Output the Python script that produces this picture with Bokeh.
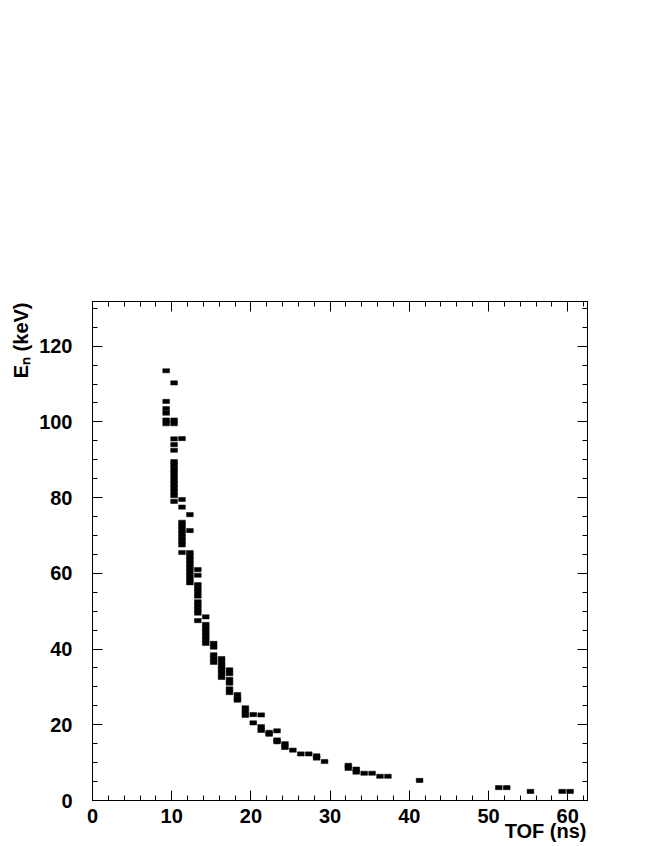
from bokeh.plotting import figure
from bokeh.models import Range1d, LinearAxis, SingleIntervalTicker, ColumnDataSource
from bokeh.embed import file_html
from bokeh.resources import INLINE

# ---- data (TOF bin centre in ns, neutron energy in keV) ----
tof = ([9.3] * 6 + [10.3] * 17 + [11.3] * 11 + [12.3] * 11 + [13.3] * 11 + [14.3] * 7
       + [15.3] * 5 + [16.3] * 6 + [17.3] * 6 + [18.3] * 3 + [19.3] * 3 + [20.3] * 2
       + [21.3] * 3 + [22.3] * 2 + [23.3] * 3 + [24.3] * 2 + [25.3] + [26.3] + [27.3]
       + [28.3] * 2 + [29.3] + [32.3] * 2 + [33.3] * 2 + [34.3] + [35.3] + [36.3] + [37.3]
       + [41.3] + [51.3] + [52.3] + [55.3] + [59.3] + [60.3])
energy = ([113.5, 105.4, 103.5, 102.3, 100.5, 99.5]
          + [110.3, 100.5, 99.5, 95.5, 94.0, 92.5, 89.5, 88.5, 87.5, 86.5, 85.5, 84.5, 83.5, 82.5, 81.5, 80.5, 79.0]
          + [95.6, 79.5, 77.5, 73.5, 72.5, 71.5, 70.5, 69.5, 68.5, 67.5, 65.5]
          + [75.5, 71.3, 65.5, 64.5, 63.5, 62.5, 61.5, 60.5, 59.5, 58.5, 57.5]
          + [61.0, 59.5, 57.0, 56.0, 55.0, 54.0, 52.5, 51.5, 50.5, 49.5, 47.5]
          + [48.5, 46.5, 45.5, 44.5, 43.5, 42.5, 41.5]
          + [41.5, 40.5, 38.5, 37.5, 36.5]
          + [37.5, 36.5, 35.5, 34.5, 33.5, 32.5]
          + [34.5, 33.5, 32.0, 31.0, 29.5, 28.5]
          + [28.0, 27.0, 26.5]
          + [24.5, 23.5, 22.5]
          + [22.7, 20.5]
          + [22.6, 19.5, 18.5]
          + [18.0, 17.5]
          + [18.4, 16.0, 15.5]
          + [15.0, 14.0]
          + [13.3]
          + [12.3]
          + [12.3]
          + [11.8, 11.2]
          + [10.3]
          + [9.3, 8.5]
          + [8.3, 7.5]
          + [7.2]
          + [7.2]
          + [6.4]
          + [6.4]
          + [5.3]
          + [3.4]
          + [3.4]
          + [2.4]
          + [2.4]
          + [2.4])
NBSP = "\u00a0"
# leading padding: the centred label then ends at the frame's right edge (ROOT style)
x_label = NBSP * 74 + "TOF (ns)"
y_label = "E\u2099 (keV)" + NBSP * 14

FONT = "Liberation Sans"
FS = "20px"

p = figure(width=638, height=846, output_backend="svg", toolbar_location=None,
           x_range=Range1d(0, 62.5), y_range=Range1d(0, 131.8),
           min_border_left=92, min_border_right=51, min_border_top=301, min_border_bottom=46,
           x_axis_type=None, y_axis_type=None)
p.grid.visible = False
p.outline_line_color = "black"
p.outline_line_width = 1
p.background_fill_color = "white"
p.border_fill_color = "white"

src = ColumnDataSource(dict(x=tof, y=energy))
p.rect(x="x", y="y", width=0.85, height=1.1, source=src, fill_color="black", line_color="black", line_width=0.5)


def style_axis(ax, labels, interval, nminor):
    ax.ticker = SingleIntervalTicker(interval=interval, num_minor_ticks=nminor)
    ax.axis_line_color = "black"
    ax.major_tick_line_color = "black"
    ax.minor_tick_line_color = "black"
    ax.major_tick_in = 10
    ax.major_tick_out = 0
    ax.minor_tick_in = 5
    ax.minor_tick_out = 0
    ax.axis_label_text_font = FONT
    ax.axis_label_text_font_style = "bold"
    ax.axis_label_text_font_size = FS
    ax.axis_label_text_color = "black"
    if labels:
        ax.major_label_text_font = FONT
        ax.major_label_text_font_style = "bold"
        ax.major_label_text_font_size = FS
        ax.major_label_text_color = "black"
    else:
        ax.major_label_text_font_size = "0px"
        ax.major_label_text_alpha = 0


xb = LinearAxis(axis_label=x_label)
style_axis(xb, True, 10, 5)
xb.major_label_standoff = 8
xb.axis_label_standoff = -6
p.add_layout(xb, "below")
xt = LinearAxis()
style_axis(xt, False, 10, 5)
p.add_layout(xt, "above")

yl = LinearAxis(axis_label=y_label)
style_axis(yl, True, 20, 4)
yl.major_label_standoff = 20
yl.axis_label_standoff = 4
try:
    yl.axis_label_align = "end"
except Exception:
    pass
p.add_layout(yl, "left")
yr = LinearAxis()
style_axis(yr, False, 20, 4)
p.add_layout(yr, "right")

open("out.html", "w").write(file_html(p, INLINE))
